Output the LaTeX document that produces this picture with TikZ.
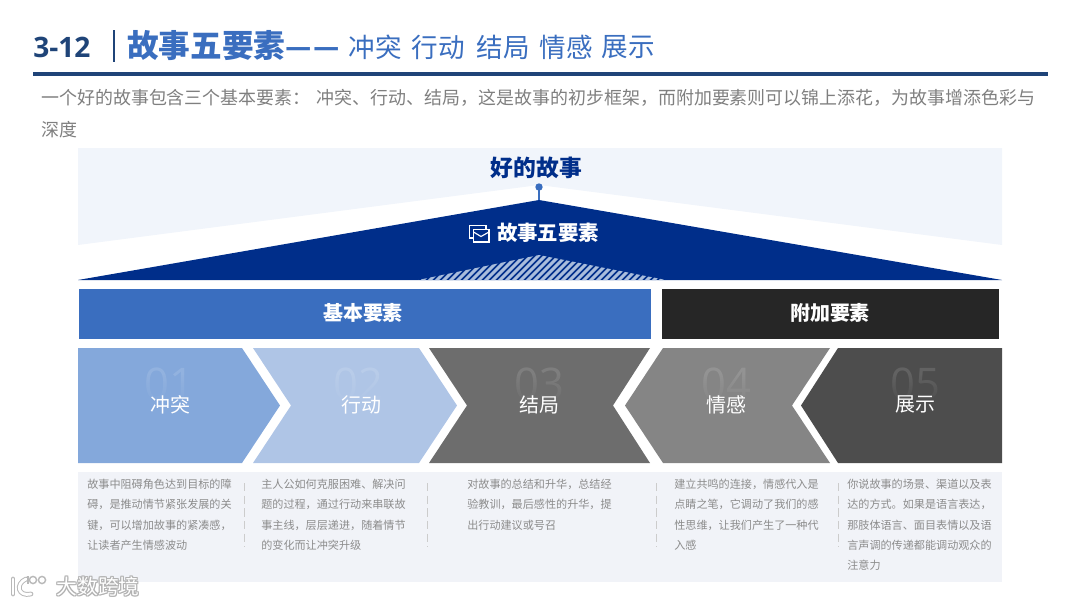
\documentclass[tikz,border=0pt]{standalone}
\usepackage{fontspec}
\setmainfont{Noto Sans CJK SC}
\newfontfamily\latinfont{Open Sans}
\usetikzlibrary{fadings}
\definecolor{navy}{HTML}{1F4478}
\definecolor{midblue}{HTML}{3A6EBF}
\definecolor{deepblue}{HTML}{002E8A}
\definecolor{hatchblue}{HTML}{A9BDDC}
\definecolor{paleblue}{HTML}{F1F5FB}
\definecolor{panelgray}{HTML}{F1F3F8}
\definecolor{chevA}{HTML}{84A8DB}
\definecolor{chevB}{HTML}{AFC5E6}
\definecolor{chevC}{HTML}{6D6D6D}
\definecolor{chevD}{HTML}{858585}
\definecolor{chevE}{HTML}{4D4D4D}
\definecolor{introgray}{HTML}{7F7F7F}
\definecolor{bodygray}{HTML}{8C8C8C}
\tikzset{
  intro/.style={anchor=west, inner sep=0pt, text=introgray, font=\fontsize{12.77}{14}\selectfont},
  subword/.style={inner sep=0pt, text=midblue, font=\fontsize{18.9}{20}\selectfont},
  barlabel/.style={text=white, font=\bfseries\fontsize{14.2}{16}\selectfont},
  chevlabel/.style={text=white, font=\fontsize{14.2}{16}\selectfont},
  chevnum/.style={text=white, text opacity=0.12, font=\latinfont\fontsize{31}{34}\selectfont},
  body/.style={anchor=north west, inner sep=0pt, align=left, text=bodygray, font=\fontsize{7.9}{14.4}\selectfont},
  sepline/.style={draw=black!20, line width=0.5pt, dash pattern=on 6pt off 3pt},
  markout/.style={text=black!30, font=\fontsize{14.8}{16}\selectfont},
  markfill/.style={text=white, font=\fontsize{14.8}{16}\selectfont},
}
\begin{document}
\begin{tikzpicture}[x=0.025cm, y=-0.025cm]
\useasboundingbox (0,0) rectangle (1080,607);
% heading
\node[anchor=west, inner sep=0pt, text=navy, font=\latinfont\bfseries\fontsize{20}{22}\selectfont] (num) at (33,47) {3-12};
\draw[navy, line width=1.9pt] (114,30) -- (114,62);
\node[anchor=west, inner sep=0pt, text=midblue, font=\bfseries\fontsize{22.5}{24}\selectfont] (head) at (127,46) {故事五要素{\fontsize{20.5}{20}\selectfont —\kern1pt—}};
\node[subword] (subA) at (375.5,47) {冲突};
\node[subword] (subB) at (438.5,47) {行动};
\node[subword] (subC) at (503.5,47) {结局};
\node[subword] (subD) at (566,47) {情感};
\node[subword] (subE) at (628,47) {展示};
\draw[navy, line width=2.2pt] (33,74) -- (1048,74);
\node[intro] (introA) at (41,98) {一个好的故事包含三个基本要素：\hspace{4.5pt}冲突、行动、结局，这是故事的初步框架，而附加要素则可以锦上添花，为故事增添色彩与};
\node[intro] (introB) at (41,130) {深度};
% roof
\fill[paleblue] (78,148) -- (1002,148) -- (1002,245) -- (539,185) -- (78,245) -- cycle;
\fill[deepblue] (78,280) -- (539,200) -- (1002,280) -- cycle;
\begin{scope}
\clip (418,280) -- (539,255) -- (666,280) -- cycle;
\foreach \i in {0,...,40}
  \draw[hatchblue, line width=2.1pt] ({400+7*\i},282) -- ({430+7*\i},252);
\end{scope}
\node[text=deepblue, font=\bfseries\fontsize{16.2}{18}\selectfont] (story) at (536.5,168) {好的故事};
\fill[midblue] (539,187) circle (3.7);
\coordinate (apex) at (539,200);
\coordinate (dot) at (539,187);
\draw[midblue, line width=0.8pt] (dot) -- (apex);
\node[text=white, font=\bfseries\fontsize{14.5}{16}\selectfont] (five) at (548,232.5) {故事五要素};
% icon
\draw[white, line width=0.8pt] (469.5,225.5) rectangle (486,238);
\filldraw[draw=white, fill=deepblue, line width=0.8pt] (473.5,229.5) rectangle (489,242);
\draw[white, line width=0.8pt] (473.5,232) -- (481,236.5) -- (489,232);
% bars
\fill[midblue] (79,289) rectangle (651,339);
\fill[black!85] (662,289) rectangle (999,339);
\node[barlabel] (basic) at (363,313) {基本要素};
\node[barlabel] (extra) at (830,313) {附加要素};
% chevrons
\fill[chevA] (78,348) -- (242,348) -- (280,405.5) -- (242,463) -- (78,463) -- cycle;
\fill[chevB] (253,348) -- (419,348) -- (457,405.5) -- (419,463) -- (253,463) -- (291,405.5) -- cycle;
\fill[chevC] (429,348) -- (650,348) -- (613,405.5) -- (650,463) -- (429,463) -- (467,405.5) -- cycle;
\fill[chevD] (663,348) -- (830,348) -- (792,405.5) -- (830,463) -- (663,463) -- (625,405.5) -- cycle;
\fill[chevE] (838,348) -- (1002,348) -- (1002,463) -- (838,463) -- (801,405.5) -- cycle;
\foreach \xn/\xc/\lab/\tag/\col in {169/170/01/冲突/chevA, 358/361/02/行动/chevB, 539/539/03/结局/chevC, 726/726/04/情感/chevD, 915/915/05/展示/chevE}{
  \node[chevnum] at (\xn,384) {\lab};
  % digits fade out downward
  \fill[\col, path fading=north] (\xn-32,374) rectangle (\xn+32,404);
  \node[chevlabel] at (\xc,404.5) {\tag};
}
% text panel
\fill[panelgray] (78,472) rectangle (1002,582);
\node[body] (textA) at (87,479) {故事中阻碍角色达到目标的障\\碍，是推动情节紧张发展的关\\键，可以增加故事的紧凑感，\\让读者产生情感波动};
\node[body] (textB) at (261,479) {主人公如何克服困难、解决问\\题的过程，通过行动来串联故\\事主线，层层递进，随着情节\\的变化而让冲突升级};
\node[body] (textC) at (467,479) {对故事的总结和升华，总结经\\验教训，最后感性的升华，提\\出行动建议或号召};
\node[body] (textD) at (674,479) {建立共鸣的连接，情感代入是\\点睛之笔，它调动了我们的感\\性思维，让我们产生了一种代\\入感};
\node[body] (textE) at (847,479) {你说故事的场景、渠道以及表\\达的方式。如果是语言表达，\\那肢体语言、面目表情以及语\\言声调的传递都能调动观众的\\注意力};
\foreach \xs in {244,427,656,838}
  \draw[sepline] (\xs,483) -- (\xs,547);
% watermark
\foreach \dx/\dy in {-1/0,1/0,0/-1,0/1,-1/-1,1/1,-1/1,1/-1}
  \node[markout] at ({98+\dx},{586.5+\dy}) {大数跨境};
\node[markfill] (mark) at (98,586.5) {大数跨境};
\draw[black!28, line width=3.4pt, line cap=round] (13,579) -- (13,594);
\draw[black!28, line width=3.4pt, line cap=round] (26,579) .. controls (15,584) and (18,597) .. (31,594);
\draw[white, line width=2pt, line cap=round] (13,579) -- (13,594);
\draw[white, line width=2pt, line cap=round] (26,579) .. controls (15,584) and (18,597) .. (31,594);
\draw[black!28, fill=white, line width=1pt] (33,580) circle (3.6);
\draw[black!28, fill=white, line width=1pt] (42,580) circle (3.6);
\draw[black!28, line width=1pt] (28,576) -- (28,584);
\end{tikzpicture}
\end{document}
